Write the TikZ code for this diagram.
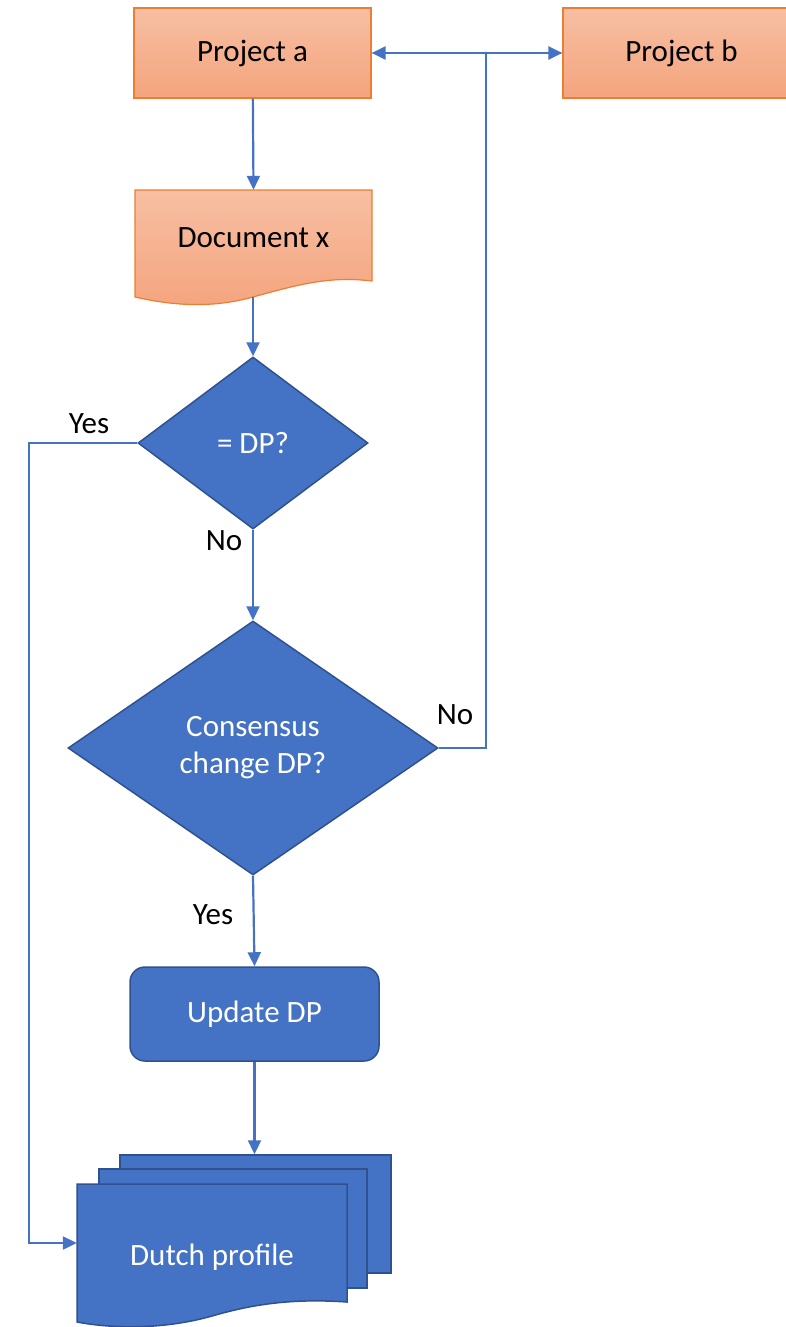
\documentclass[tikz,border=0pt]{standalone}
\usepackage{fontspec}
\setmainfont{Carlito}
\usepackage{xcolor}
\usetikzlibrary{shapes.geometric,arrows.meta}
\definecolor{ortop}{HTML}{F7BFA3}
\definecolor{orbot}{HTML}{F4A47D}
\definecolor{orline}{HTML}{ED7D31}
\definecolor{bluefill}{HTML}{4472C4}
\definecolor{blueline}{HTML}{2F528F}
\definecolor{connblue}{HTML}{4472C4}
\begin{document}
\begin{tikzpicture}[x=1pt, y=-1pt, >={Triangle[length=14pt,width=13pt]},
  font=\fontsize{31}{37}\selectfont,
  link/.style = {draw=connblue, line width=2.2pt},
  orange/.style = {draw=orline, line width=1.2pt, top color=ortop, bottom color=orbot},
  proc/.style = {orange, minimum width=237pt, minimum height=90pt},
  blue/.style = {draw=blueline, line width=1.5pt, fill=bluefill},
  decision/.style = {blue, diamond, text=white, inner sep=0pt, align=center},
  lbl/.style = {inner sep=0pt}]
\useasboundingbox (0,0) rectangle (786,1327);

\node[proc] (pa) at (252.5,53) {Project a};
\node[proc] (pb) at (681.5,53) {Project b};

\draw[orange] (135,190) -- (372,190) -- (372,281) .. controls (330,276) and (300,284) .. (253,297) .. controls (210,309) and (170,305) .. (135,297) -- cycle;
\node (doc) at (253.5,238) [minimum width=237pt, minimum height=96pt] {Document x};
\coordinate (docb) at (253,297);

\node[decision, minimum width=230pt, minimum height=172pt] (d1) at (253,443) {= DP?};
\node[decision, minimum width=370pt, minimum height=254pt] (d2) at (253,748) {Consensus\\change DP?};
\node[blue, rounded corners=15pt, text=white, minimum width=249pt, minimum height=94pt] (upd) at (254.5,1014) {Update DP};

\node[blue, minimum width=271pt, minimum height=118pt] (fpb) at (255.5,1214) {};
\node[blue, minimum width=268pt, minimum height=119pt] (fpm) at (233,1228.5) {};
\draw[blue] (77,1184) -- (347,1184) -- (347,1302) .. controls (290,1298) and (250,1305) .. (212,1316) .. controls (170,1328) and (120,1330) .. (77,1322) -- cycle;
\node[text=white, minimum width=270pt, minimum height=118pt] (fp) at (212,1243) {\raisebox{-22pt}[0pt][0pt]{Dutch profile}};

\coordinate (ycorner) at (29,443);
\coordinate (junc) at (486,53);

\draw[link,->] (pa) -- (doc.north);
\draw[link,->] (docb) -- (d1.north);
\draw[link,->] (d1.south) -- (d2.north);
\draw[link,->] (d2.south) -- (upd.north);
\draw[link,->] (upd.south) -- (upd.south |- fpb.north);
\draw[link,->] (d1.west) -- (ycorner) |- (fp.west);
\draw[link] (d2.east) -| (junc);
\draw[link,->] (junc) -- (pa.east);
\draw[link,->] (junc) -- (pb.west);

\node[lbl] (yes1) at (89,424) {Yes};
\node[lbl] (no1) at (224,541) {No};
\node[lbl] (no2) at (455,715) {No};
\node[lbl] (yes2) at (213,915) {Yes};
\end{tikzpicture}
\end{document}
